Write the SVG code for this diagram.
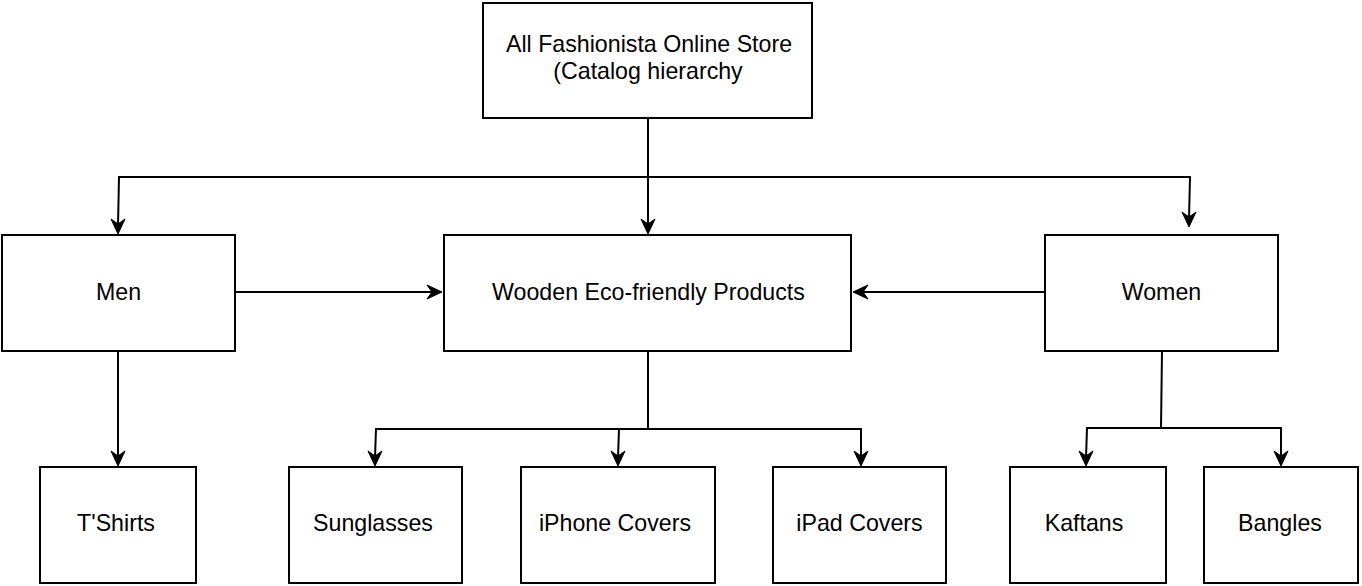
<svg xmlns="http://www.w3.org/2000/svg" width="1362" height="586" viewBox="0 0 1362 586">
<style>
  .box { fill: #ffffff; stroke: #000000; stroke-width: 2; }
  .lbl { font-family: "Liberation Sans", Arial, sans-serif; font-size: 23.2px; fill: #000000; text-anchor: middle; }
  .edge { fill: none; stroke: #000000; stroke-width: 2; }
  .head { fill: #000000; stroke: #000000; stroke-width: 1; stroke-linejoin: miter; }
</style>
<defs>
  <path id="ah" d="M0,0 L-7,-15 L0,-10 L7,-15 Z"/>
</defs>
<rect width="1362" height="586" fill="#ffffff"/>
<g id="connectors">
  <path class="edge" d="M648,118 L648,226"/>
  <path class="edge" d="M648,177 L119,177 L118,226"/>
  <path class="edge" d="M648,177 L1190,177 L1189,219"/>
  <path class="edge" d="M235,292 L434,292"/>
  <path class="edge" d="M1045,292 L861,292"/>
  <path class="edge" d="M118,351 L118,458"/>
  <path class="edge" d="M648,351 L648,429"/>
  <path class="edge" d="M648,429 L376,429 L375,458"/>
  <path class="edge" d="M648,429 L619,429 L618,458"/>
  <path class="edge" d="M648,429 L861,429 L861,458"/>
  <path class="edge" d="M1162,351 L1161,428"/>
  <path class="edge" d="M1161,428 L1087,428 L1086,458"/>
  <path class="edge" d="M1161,428 L1281,428 L1281,458"/>
  <use href="#ah" class="head" transform="translate(648,234)"/>
  <use href="#ah" class="head" transform="translate(118,234)"/>
  <use href="#ah" class="head" transform="translate(1189,227)"/>
  <use href="#ah" class="head" transform="translate(442,292) rotate(-90)"/>
  <use href="#ah" class="head" transform="translate(853,292) rotate(90)"/>
  <use href="#ah" class="head" transform="translate(118,466)"/>
  <use href="#ah" class="head" transform="translate(375,466)"/>
  <use href="#ah" class="head" transform="translate(618,466)"/>
  <use href="#ah" class="head" transform="translate(861,466)"/>
  <use href="#ah" class="head" transform="translate(1086,466)"/>
  <use href="#ah" class="head" transform="translate(1281,466)"/>
</g>
<g id="root">
  <rect class="box" x="483" y="3" width="329" height="115"/>
  <text class="lbl" x="649" y="52">All Fashionista Online Store</text>
  <text class="lbl" x="648" y="79">(Catalog hierarchy</text>
</g>
<g id="men">
  <rect class="box" x="2" y="235" width="233" height="116"/>
  <text class="lbl" x="118.5" y="300">Men</text>
</g>
<g id="wooden">
  <rect class="box" x="444" y="235" width="407" height="116"/>
  <text class="lbl" x="648.5" y="300">Wooden Eco-friendly Products</text>
</g>
<g id="women">
  <rect class="box" x="1045" y="235" width="233" height="116"/>
  <text class="lbl" x="1161.5" y="300">Women</text>
</g>
<g id="tshirts">
  <rect class="box" x="40" y="467" width="156" height="116"/>
  <text class="lbl" x="116" y="531">T'Shirts</text>
</g>
<g id="sunglasses">
  <rect class="box" x="289" y="467" width="173" height="116"/>
  <text class="lbl" x="373" y="531">Sunglasses</text>
</g>
<g id="iphone">
  <rect class="box" x="521" y="467" width="194" height="116"/>
  <text class="lbl" x="615" y="531">iPhone Covers</text>
</g>
<g id="ipad">
  <rect class="box" x="773" y="467" width="173" height="116"/>
  <text class="lbl" x="859.5" y="531">iPad Covers</text>
</g>
<g id="kaftans">
  <rect class="box" x="1010" y="467" width="156" height="116"/>
  <text class="lbl" x="1084" y="531">Kaftans</text>
</g>
<g id="bangles">
  <rect class="box" x="1204" y="467" width="154" height="116"/>
  <text class="lbl" x="1280" y="531">Bangles</text>
</g>
</svg>
